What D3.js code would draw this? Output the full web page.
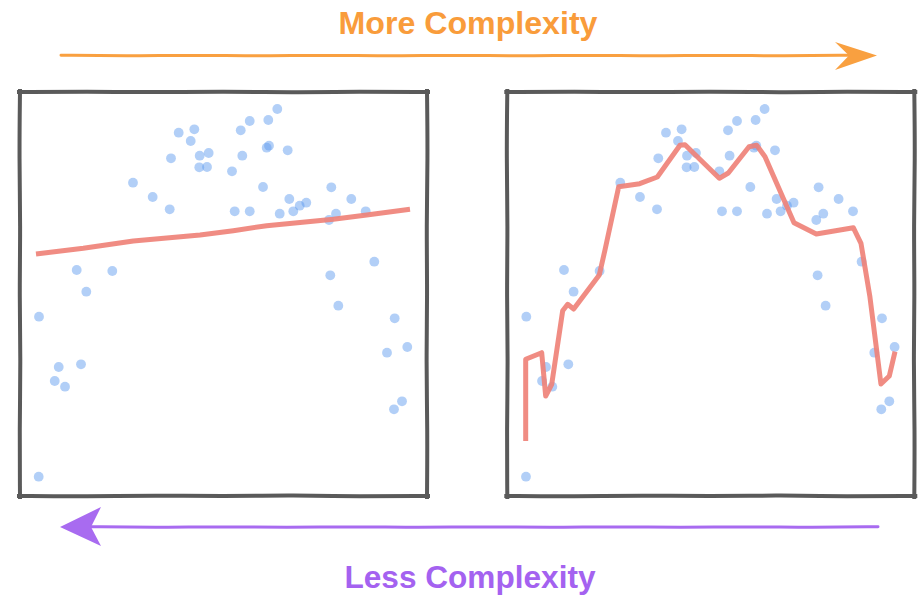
<!DOCTYPE html>
<html><head><meta charset="utf-8">
<script src="https://cdn.jsdelivr.net/npm/d3@7"></script>
<style>html,body{margin:0;padding:0;background:#fff}svg{display:block}</style>
</head><body>
<svg id="c" width="923" height="603"></svg>
<script>
// Scatter data (same points in both panels)
const pointX = [4.67,4.59,9.51,8.53,11.06,14.99,13.93,16.29,22.68,27.76,32.6,36.78,37.1,38.99,42.83,41.94,44.15,46.36,44.05,45.95,52.09,54.23,56.44,54.62,52.75,56.44,61.01,63.22,60.61,61.18,65.77,59.71,66.17,63.81,67.15,68.72,70.34,76.49,75.92,77.64,81.4,84.94,87.05,76.24,78.21,92.06,95.16,90.17,93.86,91.89];
const pointY = [44.38,4.78,31.93,28.47,27.05,32.6,55.94,50.57,55.69,77.55,74.01,70.96,83.59,89.93,90.77,87.87,84.23,84.9,81.36,81.44,80.37,90.52,92.82,84.23,70.47,70.47,93.07,95.79,86.21,86.71,85.57,76.49,73.51,69.88,70.47,71.86,72.6,76.41,68.32,69.88,73.51,70.47,58.0,54.63,47.1,43.99,36.88,35.47,23.44,21.46];
// Simple (underfit) model curve, left panel
const simpleX = [3.93,15.55,27.84,44.23,52.41,60.61,76.98,85.18,95.82];
const simpleY = [59.9,61.31,63.12,64.6,65.67,66.91,68.5,69.55,70.97];
// Complex (overfit) model curve, right panel
const complexX = [4.52,4.52,8.45,9.43,10.91,13.61,14.84,16.31,22.6,24.0,27.37,32.53,36.86,42.43,43.66,52.09,54.3,59.39,61.28,63.32,70.44,75.92,85.01,86.9,89.09,91.8,93.86,95.26];
const complexY = [13.61,33.84,35.47,24.75,27.65,45.87,47.45,46.29,54.7,60.89,76.56,77.3,78.96,86.81,86.96,78.64,79.95,86.46,86.81,83.99,67.65,64.85,66.41,62.55,49.33,27.72,29.7,35.72];
const titleTop = "More Complexity";
const titleBottom = "Less Complexity";

const svg = d3.select("#c");
const y = d3.scaleLinear().domain([0,100]).range([496,92]);
const panels = [
  {x: d3.scaleLinear().domain([0,100]).range([20,427]), lineX: simpleX, lineY: simpleY},
  {x: d3.scaleLinear().domain([0,100]).range([507.3,914.3]), lineX: complexX, lineY: complexY}
];

// sketchy box: four separate slightly wavy sides with sharp corners
const wob = [0.7,-0.6,0.5,-0.8,0.6,-0.4,0.8,-0.5];
function side(a,b,k){
  const pts=[]; const n=6;
  const dx=b[0]-a[0], dy=b[1]-a[1], L=Math.hypot(dx,dy), nx=-dy/L, ny=dx/L;
  for(let i=0;i<=n;i++){
    const w=(i>0&&i<n)?wob[(i+k)%8]:0;
    pts.push([a[0]+dx*i/n+nx*w, a[1]+dy*i/n+ny*w]);
  }
  return d3.line().curve(d3.curveBasis)(pts);
}
function sketchBox(x0,y0,x1,y1){
  return side([x0-1,y0],[x1+1,y0],0)+side([x1,y0-1],[x1,y1+1],2)+side([x1+1,y1],[x0-1,y1],4)+side([x0,y1+1],[x0,y0-1],6);
}

panels.forEach(p=>{
  const g = svg.append("g");
  g.append("path").attr("d", sketchBox(p.x(0), y(100), p.x(100), y(0)))
    .attr("fill","none").attr("stroke","#5a5a5a").attr("stroke-width",4).attr("stroke-linecap","square");
  g.selectAll("circle").data(pointX.map((v,i)=>[v,pointY[i]])).join("circle")
    .attr("cx",d=>p.x(d[0])).attr("cy",d=>y(d[1])).attr("r",4.9)
    .attr("fill","#5b98ef").attr("fill-opacity",0.47);
  const line = d3.line().x(d=>p.x(d[0])).y(d=>y(d[1])).curve(d3.curveLinear);
  g.append("path").attr("d", line(p.lineX.map((v,i)=>[v,p.lineY[i]])))
    .attr("fill","none").attr("stroke","#ee7f76").attr("stroke-opacity",0.9)
    .attr("stroke-width",5).attr("stroke-linejoin","round");
});

// arrows
function wavy(x0,x1,yy){
  const pts=[]; const n=12;
  for(let i=0;i<=n;i++) pts.push([x0+(x1-x0)*i/n, yy+(i%2?0.5:-0.3)]);
  return d3.line().curve(d3.curveBasis)(pts);
}
const orange="#f9a040", purple="#a86bf0";
svg.append("path").attr("d",wavy(61,850,55.5)).attr("fill","none").attr("stroke",orange).attr("stroke-width",3).attr("stroke-linecap","round");
svg.append("path").attr("d","M877,55.5 L835,42 L849,55.5 L835,70 Z").attr("fill",orange);
svg.append("path").attr("d",wavy(90,878,527)).attr("fill","none").attr("stroke",purple).attr("stroke-width",3).attr("stroke-linecap","round");
svg.append("path").attr("d","M60,527 L101,507 L91,527 L101,546 Z").attr("fill",purple);

svg.append("text").attr("x",468).attr("y",33.5).attr("text-anchor","middle")
  .attr("font-family","'Liberation Sans', Arial, sans-serif").attr("font-weight","bold").attr("font-size",31)
  .attr("textLength",259).attr("lengthAdjust","spacingAndGlyphs")
  .attr("fill","#f99c3b").text(titleTop);
svg.append("text").attr("x",470).attr("y",587.5).attr("text-anchor","middle")
  .attr("font-family","'Liberation Sans', Arial, sans-serif").attr("font-weight","bold").attr("font-size",30.5)
  .attr("textLength",251).attr("lengthAdjust","spacingAndGlyphs")
  .attr("fill","#a462f0").text(titleBottom);
</script>
</body></html>
